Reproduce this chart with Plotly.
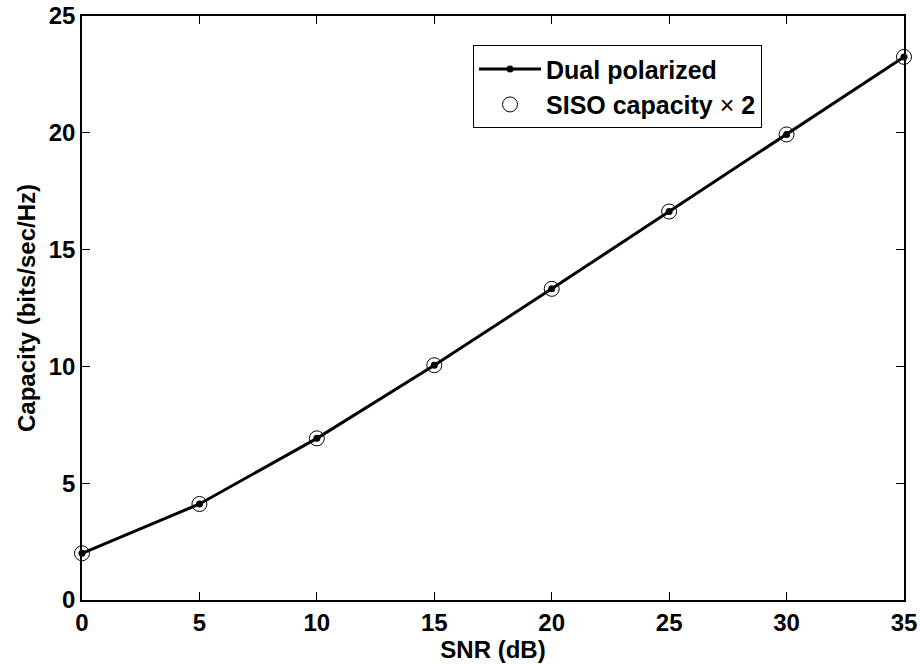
import plotly.graph_objects as go

# SNR sweep (dB) and resulting capacities (bits/sec/Hz)
snr_db = [0, 5, 10, 15, 20, 25, 30, 35]
dual_polarized = [2.00, 4.11, 6.92, 10.05, 13.32, 16.63, 19.93, 23.25]
siso_times_two = [2.00, 4.11, 6.92, 10.05, 13.32, 16.63, 19.93, 23.25]

x_ticks = [0, 5, 10, 15, 20, 25, 30, 35]
y_ticks = [0, 5, 10, 15, 20, 25]

FONT = "Liberation Sans, Arial, sans-serif"

fig = go.Figure()

fig.add_trace(go.Scatter(
    x=snr_db, y=dual_polarized,
    mode="lines+markers",
    name="Dual polarized",
    line=dict(color="black", width=3),
    marker=dict(color="black", size=7, symbol="circle"),
    cliponaxis=False,
))

fig.add_trace(go.Scatter(
    x=snr_db, y=siso_times_two,
    mode="markers",
    name="SISO capacity <span style='font-weight:normal'>×</span> 2",
    marker=dict(color="black", size=15, symbol="circle-open",
                line=dict(color="black", width=1)),
    cliponaxis=False,
))

axis_common = dict(
    automargin=False,
    showgrid=False,
    zeroline=False,
    showline=True,
    linecolor="black",
    linewidth=1.5,
    mirror="ticks",
    ticks="inside",
    ticklen=8,
    tickwidth=1,
    tickcolor="black",
    tickfont=dict(family=FONT, size=24, color="black", weight="bold"),
)

fig.update_xaxes(
    range=[0, 35],
    tickvals=x_ticks,
    title=dict(text="SNR (dB)", standoff=0,
               font=dict(family=FONT, size=24, color="black", weight="bold")),
    **axis_common,
)
fig.update_yaxes(
    range=[0, 25],
    tickvals=y_ticks,
    title=dict(text="Capacity (bits/sec/Hz)", standoff=6,
               font=dict(family=FONT, size=24, color="black", weight="bold")),
    **axis_common,
)

fig.update_layout(
    width=920,
    height=664,
    margin=dict(l=82, r=16, t=16, b=64),
    paper_bgcolor="white",
    plot_bgcolor="white",
    font=dict(family=FONT, color="black", weight="bold"),
    legend=dict(
        x=0.4757, y=0.950, xanchor="left", yanchor="top",
        bgcolor="white", bordercolor="black", borderwidth=1,
        font=dict(family=FONT, size=25, color="black", weight="bold"),
        tracegroupgap=0,
        itemwidth=62,
    ),
)

fig.write_html("out.html")
